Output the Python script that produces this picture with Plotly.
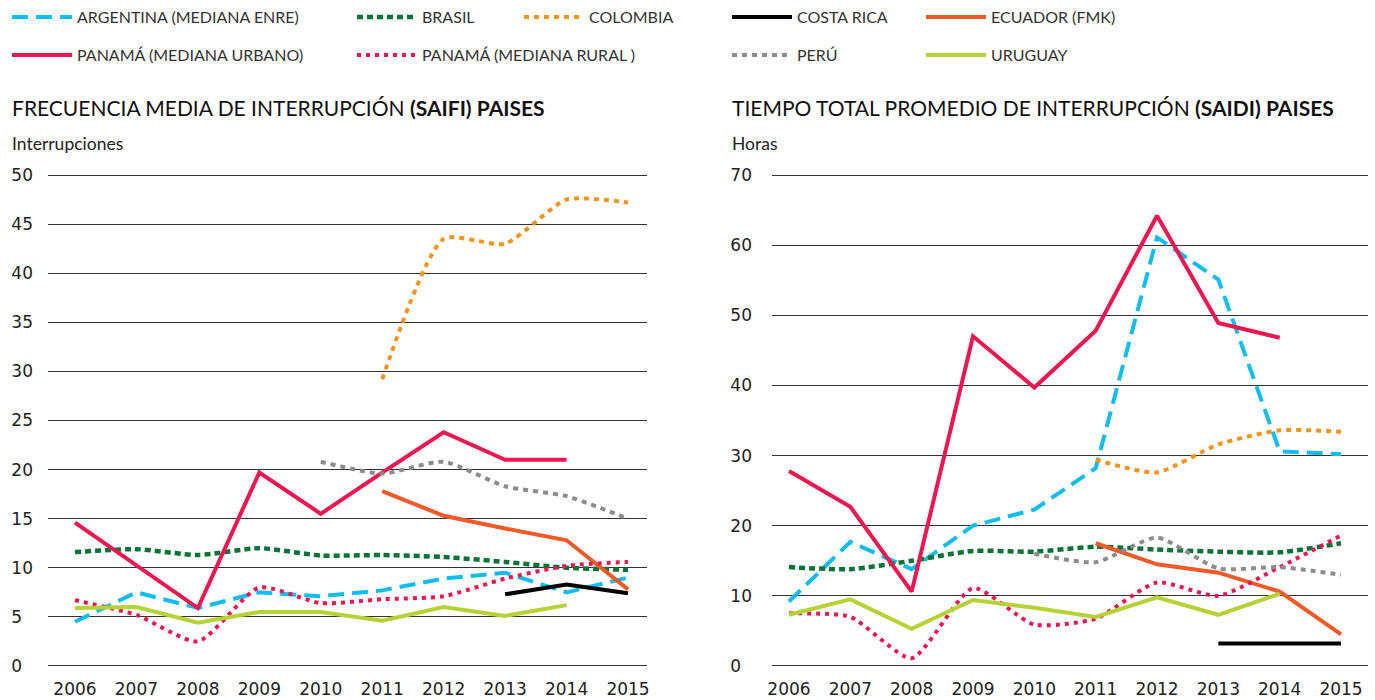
import plotly.graph_objects as go

years = [2006, 2007, 2008, 2009, 2010, 2011, 2012, 2013, 2014, 2015]

# SAIFI (interrupciones)
arg_saifi = [4.5, 7.5, 5.9, 7.5, 7.1, 7.7, 8.9, 9.5, 7.5, 9.0]
bra_saifi = [11.6, 11.9, 11.3, 12.0, 11.25, 11.3, 11.1, 10.6, 10.0, 9.8]
col_saifi = [None, None, None, None, None, 29.2, 43.5, 43.0, 47.5, 47.2]
cr_saifi = [None, None, None, None, None, None, None, 7.3, 8.3, 7.4]
ecu_saifi = [None, None, None, None, None, 17.8, 15.3, 14.0, 12.8, 7.8]
panu_saifi = [14.6, 10.2, 5.9, 19.7, 15.5, 19.7, 23.8, 21.0, 21.0, None]
panr_saifi = [6.7, 5.2, 2.5, 8.0, 6.4, 6.8, 7.1, 8.9, 10.2, 10.6]
per_saifi = [None, None, None, None, 20.8, 19.6, 20.8, 18.3, 17.3, 15.0]
uru_saifi = [5.9, 6.0, 4.4, 5.5, 5.5, 4.6, 6.0, 5.1, 6.2, None]

# SAIDI (horas)
arg_saidi = [9.2, 17.7, 13.8, 20.0, 22.3, 28.2, 61.1, 55.1, 30.6, 30.2]
bra_saidi = [14.1, 13.8, 15.0, 16.4, 16.3, 17.0, 16.6, 16.3, 16.2, 17.5]
col_saidi = [None, None, None, None, None, 29.4, 27.6, 31.6, 33.6, 33.4]
cr_saidi = [None, None, None, None, None, None, None, 3.2, 3.2, 3.2]
ecu_saidi = [None, None, None, None, None, 17.5, 14.5, 13.3, 10.6, 4.5]
panu_saidi = [27.8, 22.7, 10.6, 47.0, 39.7, 47.8, 64.2, 48.9, 46.8, None]
panr_saidi = [7.5, 7.0, 1.1, 11.1, 5.9, 6.75, 11.9, 10.0, 14.1, 18.6]
per_saidi = [None, None, None, None, 16.0, 14.8, 18.3, 13.9, 14.1, 13.0]
uru_saidi = [7.3, 9.5, 5.3, 9.4, 8.3, 7.0, 9.8, 7.3, 10.3, None]

names = ["ARGENTINA (MEDIANA ENRE)", "BRASIL", "COLOMBIA", "COSTA RICA", "ECUADOR (FMK)",
         "PANAMÁ (MEDIANA URBANO)", "PANAMÁ (MEDIANA RURAL )", "PERÚ", "URUGUAY"]
saifi_series = [arg_saifi, bra_saifi, col_saifi, cr_saifi, ecu_saifi, panu_saifi, panr_saifi, per_saifi, uru_saifi]
saidi_series = [arg_saidi, bra_saidi, col_saidi, cr_saidi, ecu_saidi, panu_saidi, panr_saidi, per_saidi, uru_saidi]

saifi_ticks = [0, 5, 10, 15, 20, 25, 30, 35, 40, 45, 50]
saidi_ticks = [0, 10, 20, 30, 40, 50, 60, 70]

W, H = 1375, 700
def px(x):
    return x / W
def py(y):
    return 1 - y / H

styles = [
    dict(color="#11bdee", dash="16px,8px", width=4, shape="linear"),
    dict(color="#0b7338", dash="6px,4px", width=4.5, shape="spline"),
    dict(color="#f7941d", dash="5px,5px", width=4, shape="spline"),
    dict(color="#000000", dash="solid", width=4, shape="linear"),
    dict(color="#f05a28", dash="solid", width=4, shape="linear"),
    dict(color="#ed1651", dash="solid", width=4, shape="linear"),
    dict(color="#ed1651", dash="4px,5px", width=4, shape="spline"),
    dict(color="#8c8c8c", dash="5px,5px", width=4, shape="spline"),
    dict(color="#b5d334", dash="solid", width=4, shape="linear"),
]

# legend placement (text x, row y) per series
leg_pos = [(78, 17), (423, 17), (590, 17), (798, 17), (992, 17),
           (78, 55), (423, 55), (798, 55), (992, 55)]

fig = go.Figure()
for i, (nm, st) in enumerate(zip(names, styles)):
    lg = "legend" if i == 0 else f"legend{i+1}"
    line = dict(color=st["color"], dash=st["dash"], width=st["width"], shape=st["shape"])
    if st["shape"] == "spline":
        line["smoothing"] = 0.6
    fig.add_trace(go.Scatter(x=years, y=saifi_series[i], name=nm, mode="lines",
                             line=line, connectgaps=False, legend=lg,
                             xaxis="x", yaxis="y", hoverinfo="skip"))
    fig.add_trace(go.Scatter(x=years, y=saidi_series[i], name=nm, mode="lines",
                             line=line, connectgaps=False, showlegend=False,
                             xaxis="x2", yaxis="y2", hoverinfo="skip"))

legend_layout = {}
for i, (tx, ty) in enumerate(leg_pos):
    key = "legend" if i == 0 else f"legend{i+1}"
    legend_layout[key] = dict(x=px(tx - 71), y=py(ty), xanchor="left", yanchor="middle",
                              xref="paper", yref="paper", bgcolor="rgba(0,0,0,0)",
                              font=dict(family="Lato", size=16, color="#333333"),
                              itemwidth=60, borderwidth=0, tracegroupgap=0)

tick_font = dict(family="DejaVu Sans", size=17, color="#222222")

def ytext(vals):
    return [f"{v}\u2007" if v < 10 else f"{v}" for v in vals]

dom_y = [py(670.9), py(170.1)]

fig.update_layout(
    width=W, height=H,
    margin=dict(l=0, r=0, t=0, b=0),
    paper_bgcolor="white", plot_bgcolor="white",
    xaxis=dict(domain=[px(48), px(647)], range=[2006 - 0.439, 2015 + 0.309],
               tickmode="array", tickvals=years, ticktext=[str(y) for y in years],
               showgrid=False, zeroline=False, showline=False, ticks="",
               tickfont=tick_font, automargin=False, ticklabelstandoff=6, fixedrange=True),
    yaxis=dict(domain=dom_y, range=[-0.5, 50.5], tickmode="array", tickvals=saifi_ticks,
               ticktext=ytext(saifi_ticks), showgrid=True, gridcolor="#333333", gridwidth=1,
               zeroline=False, showline=False, ticks="", tickfont=tick_font,
               automargin=False, ticklabelstandoff=14, fixedrange=True),
    xaxis2=dict(domain=[px(772), px(1368)], range=[2006 - 0.277, 2015 + 0.44],
                tickmode="array", tickvals=years, ticktext=[str(y) for y in years],
                showgrid=False, zeroline=False, showline=False, ticks="",
                tickfont=tick_font, automargin=False, ticklabelstandoff=6, anchor="y2",
                fixedrange=True),
    yaxis2=dict(domain=dom_y, range=[-0.7, 70.7], tickmode="array", tickvals=saidi_ticks,
                ticktext=ytext(saidi_ticks), showgrid=True, gridcolor="#333333", gridwidth=1,
                zeroline=False, showline=False, ticks="", tickfont=tick_font,
                automargin=False, ticklabelstandoff=19, anchor="x2", fixedrange=True),
    **legend_layout,
)

title_font = dict(family="Lato", size=21, color="#111111")
sub_font = dict(family="Lato", size=17.5, color="#222222")
fig.add_annotation(x=px(10), y=py(108), xref="paper", yref="paper", xanchor="left", yanchor="middle",
                   text="FRECUENCIA MEDIA DE INTERRUPCIÓN <b>(SAIFI) PAISES</b>", showarrow=False,
                   font=title_font)
fig.add_annotation(x=px(730), y=py(108), xref="paper", yref="paper", xanchor="left", yanchor="middle",
                   text="TIEMPO TOTAL PROMEDIO DE INTERRUPCIÓN <b>(SAIDI) PAISES</b>", showarrow=False,
                   font=title_font)
fig.add_annotation(x=px(10), y=py(143), xref="paper", yref="paper", xanchor="left", yanchor="middle",
                   text="Interrupciones", showarrow=False, font=sub_font)
fig.add_annotation(x=px(730), y=py(143), xref="paper", yref="paper", xanchor="left", yanchor="middle",
                   text="Horas", showarrow=False, font=sub_font)

fig.write_html("out.html", config={"displayModeBar": False},
               post_script="document.body.style.margin='0';document.body.style.overflow='hidden';")
